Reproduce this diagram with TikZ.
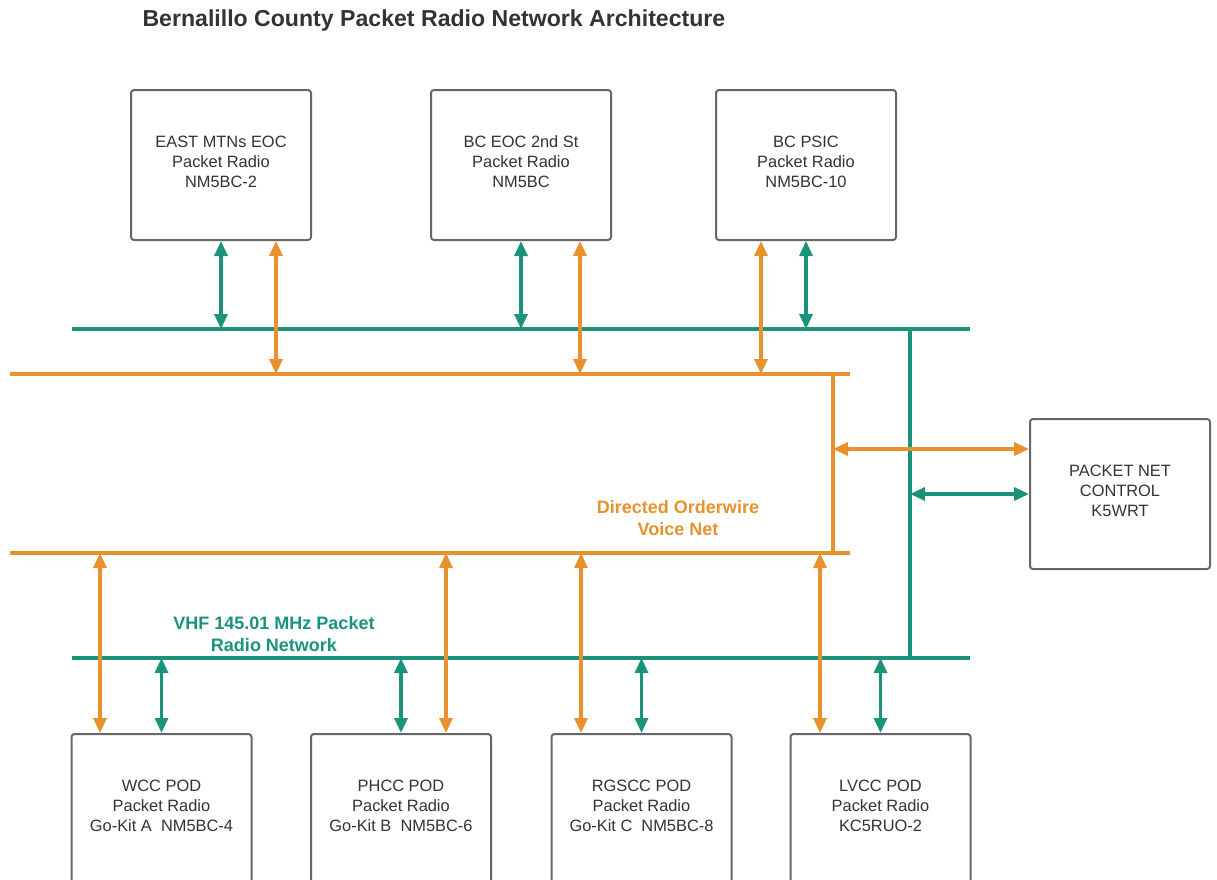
\documentclass[tikz,border=0pt]{standalone}
\usepackage{fontspec}
\setmainfont{Liberation Sans}
\usepackage{xcolor}
\usepackage{tikz}
\usetikzlibrary{arrows.meta}
\definecolor{ink}{HTML}{333333}
\definecolor{frame}{HTML}{666666}
\definecolor{voice}{HTML}{E8912D}
\definecolor{packet}{HTML}{1B937A}
\tikzset{
  box/.style={draw=frame, line width=2pt, rounded corners=3pt, fill=white,
    minimum width=180pt, minimum height=150pt, align=center, text=ink,
    font=\fontsize{16.4}{20}\selectfont},
  pline/.style={draw=packet, line width=3.2pt},
  vline/.style={draw=voice, line width=3.2pt},
  parr/.style={draw=packet, line width=3.2pt, {Triangle[length=15pt, width=13pt]}-{Triangle[length=15pt, width=13pt]}},
  varr/.style={draw=voice, line width=3.2pt, {Triangle[length=15pt, width=13pt]}-{Triangle[length=15pt, width=13pt]}},
  plbl/.style={text=packet, align=center, font=\bfseries\fontsize{18}{22}\selectfont},
  vlbl/.style={text=voice, align=center, font=\bfseries\fontsize{18}{22}\selectfont},
  title/.style={text=ink, anchor=west, font=\bfseries\fontsize{23.1}{26}\selectfont}
}

\begin{document}
\begin{tikzpicture}[x=1pt, y=-1pt]
  \useasboundingbox (0,0) rectangle (1217,879);

  \node[title] (title) at (139,21) {Bernalillo County Packet Radio Network Architecture};

  % stations on top
  \node[box] (east) at (221,165) {EAST MTNs EOC\\Packet Radio\\NM5BC-2\\[-14pt]};
  \node[box] (eoc) at (521,165) {BC EOC 2nd St\\Packet Radio\\NM5BC\\[-14pt]};
  \node[box] (psic) at (806,165) {BC PSIC\\Packet Radio\\NM5BC-10\\[-14pt]};
  \node[box] (ctrl) at (1120,494) {PACKET NET\\CONTROL\\K5WRT\\[-14pt]};

  % PODs at the bottom
  \node[box] (wcc) at (161.5,809) {WCC POD\\Packet Radio\\Go-Kit A\ \ NM5BC-4\\[-14pt]};
  \node[box] (phcc) at (401,809) {PHCC POD\\Packet Radio\\Go-Kit B\ \ NM5BC-6\\[-14pt]};
  \node[box] (rgscc) at (641.5,809) {RGSCC POD\\Packet Radio\\Go-Kit C\ \ NM5BC-8\\[-14pt]};
  \node[box] (lvcc) at (880.5,809) {LVCC POD\\Packet Radio\\KC5RUO-2\\[-14pt]};

  % buses
  \coordinate (pt1) at (72,329);
  \coordinate (pt2) at (970,329);
  \coordinate (pb1) at (72,658);
  \coordinate (pb2) at (970,658);
  \coordinate (pv) at (910,329);
  \coordinate (vt1) at (10,374);
  \coordinate (vt2) at (850,374);
  \coordinate (vb1) at (10,553);
  \coordinate (vb2) at (850,553);
  \coordinate (vv) at (833,374);

  \draw[pline] (pt1) -- (pt2);
  \draw[pline] (pb1) -- (pb2);
  \draw[pline] (pv) -- (pv |- pb1);
  \draw[vline] (vt1) -- (vt2);
  \draw[vline] (vb1) -- (vb2);
  \draw[vline] (vv) -- (vv |- vb1);

  \node[vlbl] (vnet) at (678,518) {Directed Orderwire\\Voice Net};
  \node[plbl] (pnet) at (274,634) {VHF 145.01 MHz Packet\\Radio Network};

  % top stations to the buses
  \draw[parr] (east.south) -- (east.south |- pt1);
  \draw[varr] ([xshift=55pt]east.south) coordinate (e1) -- (e1 |- vt1);
  \draw[parr] (eoc.south) -- (eoc.south |- pt1);
  \draw[varr] ([xshift=59pt]eoc.south) coordinate (e2) -- (e2 |- vt1);
  \draw[parr] (psic.south) -- (psic.south |- pt1);
  \draw[varr] ([xshift=-45pt]psic.south) coordinate (e3) -- (e3 |- vt1);

  % net control
  \draw[varr] ([yshift=45pt]ctrl.west) coordinate (c1) -- (c1 -| vv);
  \draw[parr] (ctrl.west) -- (ctrl.west -| pv);

  % PODs to the buses
  \draw[parr] (wcc.north) -- (wcc.north |- pb1);
  \draw[varr] ([xshift=-61.5pt]wcc.north) coordinate (w1) -- (w1 |- vb1);
  \draw[parr] (phcc.north) -- (phcc.north |- pb1);
  \draw[varr] ([xshift=45pt]phcc.north) coordinate (w2) -- (w2 |- vb1);
  \draw[parr] (rgscc.north) -- (rgscc.north |- pb1);
  \draw[varr] ([xshift=-60.5pt]rgscc.north) coordinate (w3) -- (w3 |- vb1);
  \draw[parr] (lvcc.north) -- (lvcc.north |- pb1);
  \draw[varr] ([xshift=-60.5pt]lvcc.north) coordinate (w4) -- (w4 |- vb1);
\end{tikzpicture}
\end{document}
